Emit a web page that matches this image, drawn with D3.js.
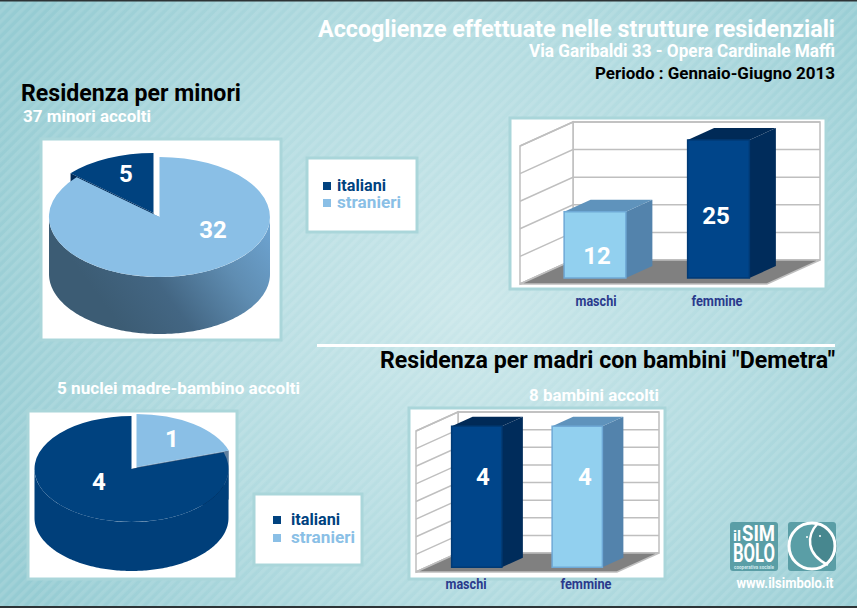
<!DOCTYPE html>
<html>
<head>
<meta charset="utf-8">
<script src="https://cdnjs.cloudflare.com/ajax/libs/d3/7.8.5/d3.min.js"></script>
<style>
html, body { margin: 0; padding: 0; background: #9fd0d6; overflow: hidden; }
text { font-family: "Liberation Sans Narrow", Roboto, sans-serif; font-weight: 700; }
</style>
</head>
<body>
<div id="chart"></div>
<script>
var w = 857, h = 608;

var origin = ["italiani", "stranieri"];
var minoriOrigin = [5, 32];
var madriOrigin = [4, 1];
var sexes = ["maschi", "femmine"];
var minoriSex = [12, 25];
var madriSex = [4, 4];

var dark = "#00427f", light = "#8abfe6", labelBlue = "#2a3a8c";

var svg = d3.select("#chart").append("svg")
    .attr("width", w)
    .attr("height", h)
    .style("display", "block");

var defs = svg.append("defs");

// background: soft glow plus diagonal stripes
var glow = defs.append("radialGradient").attr("id", "bg")
    .attr("gradientUnits", "userSpaceOnUse")
    .attr("cx", 470).attr("cy", 310).attr("r", 520);
glow.append("stop").attr("offset", 0).attr("stop-color", "#cbe7ea");
glow.append("stop").attr("offset", 0.55).attr("stop-color", "#b2dbe0");
glow.append("stop").attr("offset", 1).attr("stop-color", "#96ccd3");

var stripes = defs.append("pattern").attr("id", "stripes")
    .attr("patternUnits", "userSpaceOnUse")
    .attr("width", 7).attr("height", 7)
    .attr("patternTransform", "rotate(45)");
stripes.append("rect")
    .attr("width", 3.5).attr("height", 7)
    .attr("fill", "#fff").attr("opacity", 0.1);

function gradient(id, x1, y1, x2, y2, stops) {
  var g = defs.append("linearGradient").attr("id", id)
      .attr("gradientUnits", "userSpaceOnUse")
      .attr("x1", x1).attr("y1", y1).attr("x2", x2).attr("y2", y2);
  stops.forEach(function(s) {
    g.append("stop").attr("offset", s[0]).attr("stop-color", s[1]);
  });
}
gradient("wallLight", 130, 340, 280, 230, [[0, "#3c5c74"], [0.3, "#436683"], [0.65, "#5f8db2"], [1, "#6fa6d4"]]);
gradient("wallDark", 130, 570, 230, 490, [[0, "#001a33"], [0.5, "#002a55"], [1, "#003f7a"]]);

svg.append("rect").attr("width", w).attr("height", h).attr("fill", "url(#bg)");
svg.append("rect").attr("width", w).attr("height", h).attr("fill", "url(#stripes)");
svg.append("rect").attr("width", w).attr("height", 1.5).attr("fill", "#2d3436");
svg.append("rect").attr("y", h - 2).attr("width", w).attr("height", 2).attr("fill", "#2d3436");

function panel(x, y, width, height) {
  svg.append("rect")
      .attr("x", x).attr("y", y)
      .attr("width", width).attr("height", height)
      .attr("fill", "#fff")
      .attr("stroke", "#aad6da")
      .attr("stroke-width", 3);
}

function label(x, y, str, size, fill, anchor, width) {
  var t = svg.append("text")
      .attr("x", x).attr("y", y)
      .attr("font-size", size)
      .attr("fill", fill)
      .attr("text-anchor", anchor || "start")
      .text(str);
  if (width) t.attr("textLength", width).attr("lengthAdjust", "spacingAndGlyphs");
  return t;
}

// 3d pie: a flattened d3.arc with the rim and the cut faces drawn by hand
function pie3d(o) {
  var g = svg.append("g").attr("transform", "translate(" + o.cx + "," + o.cy + ")");
  var total = d3.sum(o.values);
  var slices = d3.pie().sort(null)
      .startAngle(-2 * Math.PI * o.values[0] / total)
      .endAngle(2 * Math.PI - 2 * Math.PI * o.values[0] / total)(o.values);
  var arc = d3.arc().innerRadius(0).outerRadius(1);
  var px = function(a) { return o.rx * Math.sin(a); };
  var py = function(a) { return -o.ry * Math.cos(a); };
  var rim = d3.area()
      .x(px)
      .y0(function(a) { return py(a) + o.depth; })
      .y1(py);
  var face = d3.line();

  // the exploded slice goes first so the main one covers its cut face
  var order = o.exploded === 0 ? [0, 1] : [1, 0];
  order.forEach(function(i) {
    var s = slices[i];
    var off = i === o.exploded ? o.offset : [0, 0];
    var piece = g.append("g").attr("transform", "translate(" + off + ")");

    [s.startAngle, s.endAngle].forEach(function(a) {
      var ax = px(a), ay = py(a);
      piece.append("path")
          .attr("d", face([[0, 0], [ax, ay], [ax, ay + o.depth], [0, o.depth]]) + "Z")
          .attr("fill", o.faces[i]);
    });

    // visible part of the rim is the front half, pi/2 to 3pi/2
    var lo = s.startAngle, hi = s.endAngle;
    [0, 2 * Math.PI, -2 * Math.PI].forEach(function(shift) {
      var a0 = Math.max(lo + shift, Math.PI / 2), a1 = Math.min(hi + shift, 3 * Math.PI / 2);
      if (a1 <= a0) return;
      var steps = d3.range(a0, a1, 0.02).concat([a1]);
      piece.append("path").attr("d", rim(steps)).attr("fill", o.rims[i]);
    });

    piece.append("path")
        .attr("transform", "scale(" + o.rx + "," + o.ry + ")")
        .attr("d", arc(s))
        .attr("fill", o.tops[i]);
  });

  o.labels.forEach(function(p, i) {
    label(p[0], p[1], o.values[i], 24, "#fff", "middle");
  });
}

// 3d column chart: back wall, left wall, floor, then the boxes
function bars3d(o) {
  var g = svg.append("g");
  var y = d3.scaleLinear().domain(o.domain).range([o.floorY, o.topY]);
  var x = d3.scaleBand().domain(o.cats)
      .range([o.frontX, o.frontX2])
      .paddingInner(0.5).paddingOuter(0.25);
  var line = d3.line();
  var poly = function(pts, fill, stroke) {
    return g.append("path").attr("d", line(pts) + "Z")
        .attr("fill", fill).attr("stroke", stroke || "none").attr("stroke-width", 1.5);
  };
  var backX = o.frontX + o.dx, backX2 = o.frontX2 + o.dx;
  var grid = "#bfbfbf";

  poly([[backX, y(o.domain[1])], [backX2, y(o.domain[1])], [backX2, o.floorY], [backX, o.floorY]], "#fff", grid);
  poly([[o.frontX, y(o.domain[1]) + o.dy], [backX, y(o.domain[1])], [backX, o.floorY], [o.frontX, o.floorY + o.dy]], "#fff", grid);

  g.selectAll(".grid").data(y.ticks(o.ticks)).enter().append("path")
      .attr("class", "grid")
      .attr("d", function(t) {
        return line([[o.frontX, y(t) + o.dy], [backX, y(t)], [backX2, y(t)]]);
      })
      .attr("fill", "none").attr("stroke", grid).attr("stroke-width", 1.5);

  poly([[o.frontX, o.floorY + o.dy], [backX, o.floorY], [backX2, o.floorY], [o.frontX2, o.floorY + o.dy]], "#808080", grid);

  var ox = o.dx * 0.25, oy = o.dy * 0.75, sx = o.dx * 0.5, sy = o.dy * 0.5;
  o.values.forEach(function(v, i) {
    var c = o.colors[i];
    var x0 = x(o.cats[i]) + ox, x1 = x0 + x.bandwidth();
    var top = y(v) + oy, base = o.floorY + oy;
    poly([[x1, top], [x1 + sx, top - sy], [x1 + sx, base - sy], [x1, base]], c.side);
    poly([[x0, top], [x0 + sx, top - sy], [x1 + sx, top - sy], [x1, top]], c.top);
    poly([[x0, top], [x1, top], [x1, base], [x0, base]], c.front, c.edge);
    label(o.valuePos[i][0], o.valuePos[i][1], v, 24, "#fff", "middle");
    label(o.catPos[i][0], o.catPos[i][1], o.cats[i], 14, labelBlue, "middle", i ? 51 : 41);
  });
}

function legend(x, y, boxW, boxH, sx, tx, ys) {
  panel(x, y, boxW, boxH);
  origin.forEach(function(d, i) {
    svg.append("rect")
        .attr("x", sx).attr("y", ys[i] - 9)
        .attr("width", 8).attr("height", 8)
        .attr("fill", i ? light : dark);
    label(tx, ys[i], d, 17, i ? light : dark, "start", i ? 64 : 49);
  });
}

var darkBar = { front: "#00458a", side: "#002c5b", top: "#002a57", edge: "#003a75" };
var lightBar = { front: "#92d0ef", side: "#5383ac", top: "#5f93bc", edge: "#6fa9d6" };

// titles
label(835, 37, "Accoglienze effettuate nelle strutture residenziali", 24, "#fff", "end", 517);
label(835, 57, "Via Garibaldi 33 - Opera Cardinale Maffi", 18, "#fff", "end", 306);
label(835, 79, "Periodo : Gennaio-Giugno 2013", 17, "#000", "end", 240);

label(21, 101, "Residenza per minori", 23, "#000", "start", 220);
label(23, 122, "37 minori accolti", 17, "#fff", "start", 128);

svg.append("rect").attr("x", 317).attr("y", 344).attr("width", 518).attr("height", 3).attr("fill", "#fff");
label(835, 368, "Residenza per madri con bambini \"Demetra\"", 23, "#000", "end", 455);
label(57, 394, "5 nuclei madre-bambino accolti", 17, "#fff", "start", 243);
label(529, 401, "8 bambini accolti", 17, "#fff", "start", 130);

// residenza per minori
panel(41, 139, 240, 201);
pie3d({
  cx: 159.5, cy: 217, rx: 110.5, ry: 60, depth: 57,
  values: minoriOrigin, exploded: 0, offset: [-6, -4],
  tops: [dark, light], rims: [dark, "url(#wallLight)"], faces: ["#002a57", "#5f8db2"],
  labels: [[126, 182], [213, 238]]
});
legend(307, 158, 110, 74, 323, 337, [191, 208]);

panel(510, 118, 316, 171);
bars3d({
  cats: sexes, values: minoriSex, colors: [lightBar, darkBar],
  domain: [0, 25], ticks: 5,
  frontX: 520, frontX2: 767, floorY: 260, topY: 122, dx: 53, dy: 24,
  valuePos: [[597, 264], [716, 224]], catPos: [[596, 306], [717, 306]]
});

// residenza per madri con bambini
panel(28, 411, 209, 168);
pie3d({
  cx: 131.5, cy: 469, rx: 97, ry: 53, depth: 49,
  values: madriOrigin, exploded: 1, offset: [5, -2],
  tops: [dark, light], rims: ["url(#wallDark)", light], faces: ["#00254a", "#5f7f9f"],
  labels: [[99, 490], [172, 447]]
});
legend(254, 494, 108, 71, 273, 291, [525, 543]);

panel(409, 408, 256, 171);
bars3d({
  cats: sexes, values: madriSex, colors: [darkBar, lightBar],
  domain: [0, 4], ticks: 8,
  frontX: 416, frontX2: 617, floorY: 553, topY: 412, dx: 42, dy: 19,
  valuePos: [[483, 485], [585, 485]], catPos: [[466, 589], [586, 589]]
});

// logos
var teal = "#5a9ea6";
svg.append("rect").attr("x", 730).attr("y", 522).attr("width", 48).attr("height", 49).attr("rx", 3).attr("fill", teal);
svg.append("rect").attr("x", 788).attr("y", 522).attr("width", 48).attr("height", 49).attr("rx", 3).attr("fill", teal);
label(733, 541, "il", 15, "#fff", "start", 8);
label(742, 541, "SIM", 22, "#fff", "start", 33);
label(733, 562, "BOLO", 25, "#fff", "start", 42);
label(754, 568.5, "cooperativa sociale", 5, "#cfe9ec", "middle", 40);

var moon = svg.append("g").attr("transform", "translate(812,546)");
moon.append("path")
    .attr("d", "M6,-23 C-6,-10 -6,8 16,19 A24,24 0 0 0 6,-23Z")
    .attr("fill", "#47878f");
moon.append("path")
    .attr("d", "M6,-23 C-6,-10 -6,8 16,19")
    .attr("fill", "none").attr("stroke", "#fff").attr("stroke-width", 2.5);
moon.append("circle").attr("r", 23).attr("fill", "none").attr("stroke", "#fff").attr("stroke-width", 3);
moon.append("circle").attr("cx", -5).attr("cy", -9).attr("r", 1).attr("fill", "#fff");
moon.append("circle").attr("cx", 8).attr("cy", -10).attr("r", 1).attr("fill", "#fff");

label(785, 588, "www.ilsimbolo.it", 15, "#fff", "middle", 97);
</script>
</body>
</html>
